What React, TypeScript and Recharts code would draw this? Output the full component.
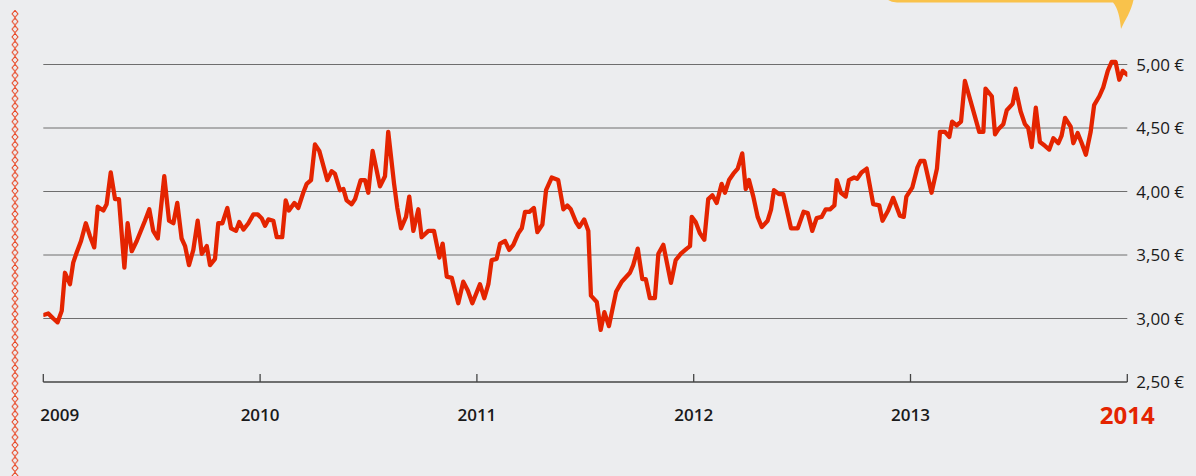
import React from "react";
import { LineChart, Line, XAxis, YAxis, CartesianGrid } from "recharts";

// decimal year of each traced observation
const dates: number[] = [
  2009.005, 2009.023, 2009.046, 2009.066, 2009.085, 2009.1, 2009.123, 2009.138, 2009.154, 2009.174,
  2009.196, 2009.215, 2009.235, 2009.251, 2009.277, 2009.292, 2009.311, 2009.331, 2009.349, 2009.374,
  2009.389, 2009.408, 2009.431, 2009.469, 2009.489, 2009.507, 2009.528, 2009.558, 2009.58, 2009.6,
  2009.618, 2009.638, 2009.654, 2009.672, 2009.692, 2009.712, 2009.731, 2009.754, 2009.769, 2009.792,
  2009.807, 2009.826, 2009.849, 2009.866, 2009.889, 2009.904, 2009.923, 2009.946, 2009.969, 2009.989,
  2010.007, 2010.023, 2010.038, 2010.061, 2010.077, 2010.102, 2010.118, 2010.133, 2010.158, 2010.176,
  2010.199, 2010.215, 2010.235, 2010.253, 2010.273, 2010.31, 2010.33, 2010.345, 2010.368, 2010.384,
  2010.399, 2010.422, 2010.438, 2010.464, 2010.484, 2010.499, 2010.519, 2010.553, 2010.576, 2010.591,
  2010.618, 2010.633, 2010.65, 2010.673, 2010.688, 2010.707, 2010.73, 2010.745, 2010.776, 2010.802,
  2010.827, 2010.842, 2010.861, 2010.884, 2010.914, 2010.937, 2010.958, 2010.979,
  2011.014, 2011.034, 2011.053, 2011.068, 2011.091, 2011.107, 2011.13, 2011.149, 2011.168, 2011.191,
  2011.207, 2011.222, 2011.242, 2011.263, 2011.279, 2011.302, 2011.319, 2011.345, 2011.375, 2011.399,
  2011.417, 2011.433, 2011.457, 2011.472, 2011.495, 2011.514, 2011.526, 2011.553, 2011.571, 2011.588,
  2011.609, 2011.642, 2011.668, 2011.706, 2011.721, 2011.742, 2011.763, 2011.779, 2011.798, 2011.821,
  2011.837, 2011.86, 2011.895, 2011.917, 2011.941, 2011.968, 2011.983, 2011.991,
  2012.009, 2012.029, 2012.049, 2012.067, 2012.086, 2012.106, 2012.129, 2012.144, 2012.163, 2012.183,
  2012.203, 2012.224, 2012.24, 2012.255, 2012.275, 2012.295, 2012.314, 2012.341, 2012.357, 2012.37,
  2012.393, 2012.413, 2012.449, 2012.48, 2012.507, 2012.526, 2012.547, 2012.567, 2012.59, 2012.609,
  2012.629, 2012.649, 2012.66, 2012.679, 2012.701, 2012.716, 2012.74, 2012.754, 2012.774, 2012.798,
  2012.828, 2012.856, 2012.871, 2012.897, 2012.92, 2012.951, 2012.969, 2012.981,
  2013.008, 2013.032, 2013.046, 2013.064, 2013.097, 2013.122, 2013.136, 2013.159, 2013.179, 2013.192,
  2013.213, 2013.233, 2013.251, 2013.284, 2013.317, 2013.336, 2013.346, 2013.375, 2013.39, 2013.405,
  2013.428, 2013.444, 2013.471, 2013.485, 2013.508, 2013.528, 2013.543, 2013.559, 2013.578, 2013.597,
  2013.62, 2013.64, 2013.659, 2013.682, 2013.697, 2013.713, 2013.739, 2013.751, 2013.771, 2013.79,
  2013.809, 2013.831, 2013.847, 2013.871, 2013.889, 2013.91, 2013.928, 2013.946, 2013.963, 2013.979,
  2013.999,
];

// price in euro
const prices: number[] = [
  3.03, 3.04, 3.0, 2.97, 3.06, 3.36, 3.27, 3.44, 3.52, 3.61,
  3.75, 3.65, 3.56, 3.88, 3.85, 3.9, 4.15, 3.94, 3.94, 3.4,
  3.75, 3.53, 3.61, 3.77, 3.86, 3.69, 3.63, 4.12, 3.77, 3.75,
  3.91, 3.63, 3.57, 3.42, 3.54, 3.77, 3.51, 3.57, 3.42, 3.47,
  3.75, 3.75, 3.87, 3.71, 3.69, 3.76, 3.7, 3.75, 3.82, 3.82,
  3.79, 3.73, 3.78, 3.77, 3.64, 3.64, 3.93, 3.85, 3.91, 3.87,
  3.99, 4.06, 4.09, 4.37, 4.32, 4.09, 4.16, 4.14, 4.01, 4.02,
  3.93, 3.9, 3.94, 4.09, 4.09, 3.99, 4.32, 4.04, 4.12, 4.47,
  4.06, 3.87, 3.71, 3.8, 3.96, 3.69, 3.86, 3.64, 3.69, 3.69,
  3.48, 3.59, 3.33, 3.32, 3.12, 3.29, 3.22, 3.12,
  3.27, 3.16, 3.27, 3.46, 3.47, 3.59, 3.61, 3.54, 3.58, 3.67,
  3.71, 3.84, 3.84, 3.87, 3.68, 3.74, 4.01, 4.11, 4.09, 3.86,
  3.89, 3.86, 3.76, 3.72, 3.78, 3.69, 3.18, 3.13, 2.91, 3.05,
  2.94, 3.21, 3.29, 3.36, 3.42, 3.55, 3.31, 3.31, 3.16, 3.16,
  3.51, 3.58, 3.28, 3.46, 3.51, 3.55, 3.57, 3.8,
  3.76, 3.67, 3.62, 3.94, 3.97, 3.91, 4.06, 3.99, 4.09, 4.14,
  4.18, 4.3, 4.02, 4.09, 3.96, 3.8, 3.72, 3.77, 3.86, 4.01,
  3.98, 3.98, 3.71, 3.71, 3.84, 3.83, 3.69, 3.79, 3.8, 3.86,
  3.86, 3.89, 4.09, 3.99, 3.96, 4.09, 4.11, 4.1, 4.15, 4.18,
  3.9, 3.89, 3.77, 3.85, 3.95, 3.81, 3.8, 3.96,
  4.03, 4.19, 4.24, 4.24, 3.99, 4.18, 4.47, 4.47, 4.43, 4.55,
  4.52, 4.55, 4.87, 4.67, 4.47, 4.47, 4.81, 4.75, 4.45, 4.49,
  4.53, 4.64, 4.69, 4.81, 4.63, 4.53, 4.5, 4.35, 4.66, 4.39,
  4.36, 4.33, 4.42, 4.38, 4.44, 4.58, 4.51, 4.38, 4.46, 4.38,
  4.29, 4.47, 4.68, 4.75, 4.82, 4.95, 5.02, 5.02, 4.88, 4.95,
  4.92,
];

const yearTicks: number[] = [2009, 2010, 2011, 2012, 2013, 2014];
const priceTicks: number[] = [2.5, 3.0, 3.5, 4.0, 4.5, 5.0];
const gridValues: number[] = [3.0, 3.5, 4.0, 4.5, 5.0];

const data = dates.map((t, i) => ({ t, price: prices[i] }));

const RED = "#e42400";
const FONT = "'Open Sans', 'Noto Sans', sans-serif";

const YearTick = (props: any) => {
  const { x, y, payload } = props;
  const v = payload.value;
  const last = v === 2014;
  const first = v === 2009;
  return (
    <g>
      <line x1={x} x2={x} y1={y} y2={y - 8} stroke="#444" strokeWidth={1.3} />
      <text
        x={first ? x - 3 : x}
        y={y + 32}
        textAnchor={first ? "start" : "middle"}
        dominantBaseline="central"
        fontFamily={FONT}
        fontWeight={last ? 700 : 600}
        fontSize={last ? 24 : 17}
        fill={last ? RED : "#1a1a1a"}
      >
        {v}
      </text>
    </g>
  );
};

const fmtPrice = (v: number) => v.toFixed(2).replace(".", ",") + " €";

export default function App() {
  return (
    <div
      style={{
        position: "absolute",
        left: 0,
        top: 0,
        width: 1196,
        height: 476,
        background: "#ecedef",
        overflow: "hidden",
      }}
    >
      <svg width={30} height={476} style={{ position: "absolute", left: 0, top: 0 }}>
        <defs>
          <pattern id="dz" x={9} y={10} width={12} height={7.7} patternUnits="userSpaceOnUse">
            <path d="M6 0.4 L9 3.85 L6 7.3 L3 3.85 Z" fill="none" stroke="#e8401c" strokeWidth={1} />
          </pattern>
        </defs>
        <rect x={9} y={10} width={12} height={466} fill="url(#dz)" />
      </svg>
      <div style={{ position: "absolute", left: 0, top: 0 }}>
        <LineChart
          width={1196}
          height={476}
          data={data}
          margin={{ top: 1, right: 8.7, bottom: 54, left: 43.3 }}
        >
          <CartesianGrid
            horizontal
            vertical={false}
            horizontalValues={gridValues}
            stroke="#6e6e6e"
            strokeWidth={1}
          />
          <XAxis
            dataKey="t"
            type="number"
            domain={[2009, 2014]}
            ticks={yearTicks}
            interval={0}
            allowDataOverflow
            height={40}
            tickSize={0}
            tickMargin={0}
            axisLine={{ stroke: "#444", strokeWidth: 1.5 }}
            tickLine={false}
            tick={<YearTick />}
          />
          <YAxis
            orientation="right"
            type="number"
            domain={[2.5, 5.5]}
            ticks={priceTicks}
            interval={0}
            allowDataOverflow
            width={60}
            axisLine={false}
            tickLine={false}
            tickSize={0}
            tickMargin={9}
            tickFormatter={fmtPrice}
            tick={{ fontFamily: FONT, fontSize: 17, fill: "#1a1a1a" }}
          />
          <Line
            type="linear"
            dataKey="price"
            stroke={RED}
            strokeWidth={4.3}
            strokeLinejoin="round"
            strokeLinecap="round"
            dot={false}
            activeDot={false}
            isAnimationActive={false}
          />
        </LineChart>
      </div>
      <svg width={1196} height={60} style={{ position: "absolute", left: 0, top: 0 }}>
        <path
          d="M884 -10 L1134 -10 L1133.5 0 C1131 12 1125 20 1121 29 C1120 18 1118 8 1113 2.5 L897 2.5 Q889 2 886 -2 Z"
          fill="#f9c24b"
        />
      </svg>
    </div>
  );
}
